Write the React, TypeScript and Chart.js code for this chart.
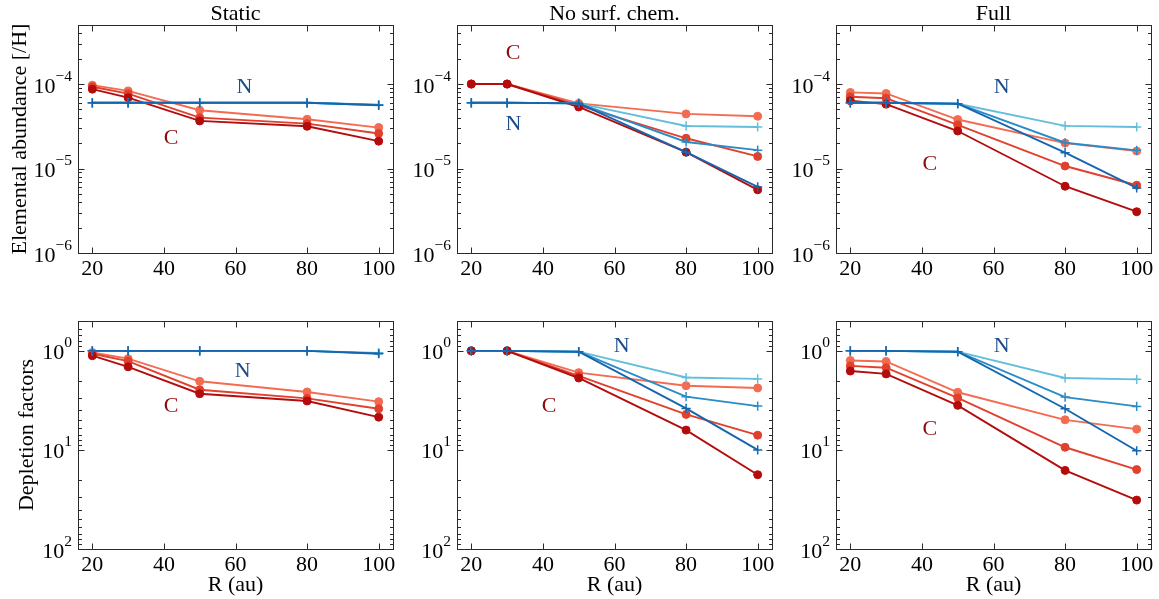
import React, { useEffect, useRef } from 'react';
import { Chart, registerables } from 'chart.js';

Chart.register(...registerables);

const FONT = "'Liberation Serif', 'Times New Roman', serif";

// ---------- categories / ticks / labels ----------
const radiusAu = [20, 30, 50, 80, 100];
const xTickValues = [20, 40, 60, 80, 100];
const abundanceDecades = [1e-6, 1e-5, 1e-4];
const depletionDecades = [1, 10, 100];
const panelTitles = ['Static', 'No surf. chem.', 'Full'];
const rowLabels = ['Elemental abundance [/H]', 'Depletion factors'];
const xAxisLabel = 'R (au)';

// ---------- elemental abundances (top row); series order: light, mid, dark ----------
const staticAbundanceC = [
  [9.7e-5, 8.3e-5, 4.9e-5, 3.83e-5, 3.05e-5],
  [9.3e-5, 7.7e-5, 4.0e-5, 3.4e-5, 2.6e-5],
  [8.7e-5, 6.9e-5, 3.66e-5, 3.16e-5, 2.11e-5],
];
const staticAbundanceN = [
  [6.0e-5, 6.0e-5, 6.0e-5, 6.0e-5, 5.7e-5],
  [6.0e-5, 6.0e-5, 6.0e-5, 6.0e-5, 5.65e-5],
  [6.0e-5, 6.0e-5, 6.0e-5, 6.0e-5, 5.6e-5],
];
const noSurfAbundanceC = [
  [1.0e-4, 1.0e-4, 5.9e-5, 4.43e-5, 4.16e-5],
  [1.0e-4, 1.0e-4, 5.6e-5, 2.28e-5, 1.39e-5],
  [1.0e-4, 1.0e-4, 5.35e-5, 1.56e-5, 5.6e-6],
];
const noSurfAbundanceN = [
  [6.0e-5, 6.0e-5, 5.9e-5, 3.19e-5, 3.1e-5],
  [6.0e-5, 6.0e-5, 5.9e-5, 2.06e-5, 1.65e-5],
  [6.0e-5, 6.0e-5, 5.9e-5, 1.56e-5, 6.05e-6],
];
const fullAbundanceC = [
  [7.96e-5, 7.74e-5, 3.8e-5, 2.0e-5, 1.61e-5],
  [7.07e-5, 6.8e-5, 3.28e-5, 1.07e-5, 6.34e-6],
  [6.34e-5, 5.78e-5, 2.78e-5, 6.17e-6, 3.08e-6],
];
const fullAbundanceN = [
  [6.0e-5, 6.0e-5, 5.85e-5, 3.2e-5, 3.1e-5],
  [6.0e-5, 6.0e-5, 5.85e-5, 2.02e-5, 1.64e-5],
  [6.0e-5, 6.0e-5, 5.85e-5, 1.54e-5, 5.9e-6],
];

// ---------- depletion factors (bottom row); series order: light, mid, dark ----------
const staticDepletionC = [
  [1.04, 1.2, 2.03, 2.6, 3.26],
  [1.07, 1.27, 2.47, 3.02, 3.84],
  [1.12, 1.45, 2.71, 3.21, 4.67],
];
const staticDepletionN = [
  [1.0, 1.0, 1.0, 1.0, 1.05],
  [1.0, 1.0, 1.0, 1.0, 1.06],
  [1.0, 1.0, 1.0, 1.0, 1.07],
];
const noSurfDepletionC = [
  [1.0, 1.0, 1.66, 2.25, 2.37],
  [1.0, 1.0, 1.79, 4.38, 7.1],
  [1.0, 1.0, 1.88, 6.31, 17.8],
];
const noSurfDepletionN = [
  [1.0, 1.0, 1.02, 1.86, 1.92],
  [1.0, 1.0, 1.02, 2.9, 3.61],
  [1.0, 1.0, 1.02, 3.81, 10.0],
];
const fullDepletionC = [
  [1.25, 1.28, 2.62, 4.97, 6.17],
  [1.42, 1.48, 2.99, 9.4, 15.8],
  [1.6, 1.71, 3.55, 16.1, 32.1],
];
const fullDepletionN = [
  [1.0, 1.0, 1.02, 1.88, 1.94],
  [1.0, 1.0, 1.02, 2.93, 3.64],
  [1.0, 1.0, 1.02, 3.84, 10.2],
];

// ---------- text annotations (data coordinates) ----------
type Note = { text: string; x: number; y: number };
const staticAbundanceNotes: Note[] = [{ text: 'N', x: 62.5, y: 9.5e-5 }, { text: 'C', x: 42, y: 2.4e-5 }];
const noSurfAbundanceNotes: Note[] = [{ text: 'C', x: 31.7, y: 2.4e-4 }, { text: 'N', x: 31.8, y: 3.5e-5 }];
const fullAbundanceNotes: Note[] = [{ text: 'N', x: 62.3, y: 9.5e-5 }, { text: 'C', x: 42.2, y: 1.17e-5 }];
const staticDepletionNotes: Note[] = [{ text: 'N', x: 62, y: 1.53 }, { text: 'C', x: 42, y: 3.5 }];
const noSurfDepletionNotes: Note[] = [{ text: 'N', x: 62, y: 0.855 }, { text: 'C', x: 41.7, y: 3.5 }];
const fullDepletionNotes: Note[] = [{ text: 'N', x: 62.3, y: 0.855 }, { text: 'C', x: 42.2, y: 5.9 }];

// ---------- styles ----------
const cColors = ['#f36c52', '#e1402d', '#b40c0c'];
const nColors = ['#64bedb', '#2b8bc6', '#1566ae'];
const noteColors: Record<string, string> = { C: '#8e0b0b', N: '#1b4d8c' };

// ---------- layout ----------
const AREA_W = 315;
const AREA_H = 228;
const colLeft = [78, 457, 836];
const colLeftSpace = [78, 60, 60];
const RIGHT_PAD = 8;
const rowCanvasTop = [0, 293];
const rowAreaTop = [25, 321];
const rowBottomSpace = [40, 50];

type PanelSpec = {
  row: number;
  col: number;
  c: number[][];
  n: number[][];
  notes: Note[];
};

const panels: PanelSpec[] = [
  { row: 0, col: 0, c: staticAbundanceC, n: staticAbundanceN, notes: staticAbundanceNotes },
  { row: 0, col: 1, c: noSurfAbundanceC, n: noSurfAbundanceN, notes: noSurfAbundanceNotes },
  { row: 0, col: 2, c: fullAbundanceC, n: fullAbundanceN, notes: fullAbundanceNotes },
  { row: 1, col: 0, c: staticDepletionC, n: staticDepletionN, notes: staticDepletionNotes },
  { row: 1, col: 1, c: noSurfDepletionC, n: noSurfDepletionN, notes: noSurfDepletionNotes },
  { row: 1, col: 2, c: fullDepletionC, n: fullDepletionN, notes: fullDepletionNotes },
];

function expText(v: number): string {
  const e = Math.round(Math.log10(v));
  return e < 0 ? '\u2212' + String(-e) : String(e);
}

const decorPlugin = {
  id: 'decor',
  afterDraw(chart: any, _args: any, opts: any) {
    const { ctx, chartArea: a, scales } = chart;
    const xs = scales.x;
    const ys = scales.y;
    ctx.save();
    const L = Math.round(a.left) + 0.5;
    const R = Math.round(a.right) + 0.5;
    const T = Math.round(a.top) + 0.5;
    const B = Math.round(a.bottom) + 0.5;
    ctx.strokeStyle = '#2a2a2a';
    ctx.lineWidth = 1;
    const seg = (x1: number, y1: number, x2: number, y2: number) => {
      ctx.beginPath();
      ctx.moveTo(x1, y1);
      ctx.lineTo(x2, y2);
      ctx.stroke();
    };
    // x ticks (inward, top & bottom)
    for (const v of xTickValues) {
      const px = Math.round(xs.getPixelForValue(v)) + 0.5;
      seg(px, B, px, B - 6);
      seg(px, T, px, T + 6);
    }
    // y ticks (major + minor, inward, left & right)
    const lo = Math.min(ys.min, ys.max);
    const hi = Math.max(ys.min, ys.max);
    for (let e = Math.floor(Math.log10(lo)); e <= Math.ceil(Math.log10(hi)); e++) {
      for (let m = 1; m <= 9; m++) {
        const v = m * Math.pow(10, e);
        if (v < lo * 0.999 || v > hi * 1.001) continue;
        const py = Math.round(ys.getPixelForValue(v)) + 0.5;
        const len = m === 1 ? 6 : 3.5;
        seg(L, py, L + len, py);
        seg(R, py, R - len, py);
      }
    }
    // frame
    ctx.strokeRect(L, T, R - L, B - T);

    // y tick labels with superscript exponents
    ctx.fillStyle = '#000';
    ctx.textBaseline = 'alphabetic';
    for (const v of opts.decades as number[]) {
      const py = ys.getPixelForValue(v);
      const ex = expText(v);
      ctx.font = `15.5px ${FONT}`;
      const ew = ctx.measureText(ex).width;
      ctx.font = `22px ${FONT}`;
      const bw = ctx.measureText('10').width;
      const right = a.left - 6;
      ctx.textAlign = 'left';
      ctx.fillText('10', right - ew - bw, py + 8.5);
      ctx.font = `15.5px ${FONT}`;
      ctx.fillText(ex, right - ew, py - 3.5);
    }

    // panel title
    if (opts.title) {
      ctx.font = `22px ${FONT}`;
      ctx.textAlign = 'center';
      ctx.fillStyle = '#000';
      ctx.fillText(opts.title, (a.left + a.right) / 2, a.top - 5);
    }

    // annotations
    ctx.font = `22px ${FONT}`;
    ctx.textAlign = 'center';
    for (const n of opts.notes as Note[]) {
      ctx.fillStyle = noteColors[n.text] || '#000';
      ctx.fillText(n.text, xs.getPixelForValue(n.x), ys.getPixelForValue(n.y) + 7.5);
    }
    ctx.restore();
  },
};

function Panel({ spec }: { spec: PanelSpec }) {
  const ref = useRef<HTMLCanvasElement | null>(null);
  const leftSpace = colLeftSpace[spec.col];
  const canvasLeft = colLeft[spec.col] - leftSpace;
  const canvasTop = rowCanvasTop[spec.row];
  const padTop = rowAreaTop[spec.row] - canvasTop;
  const bottomSpace = rowBottomSpace[spec.row];
  const width = leftSpace + AREA_W + RIGHT_PAD;
  const height = padTop + AREA_H + bottomSpace;

  useEffect(() => {
    if (!ref.current) return;
    const isTop = spec.row === 0;
    const mk = (series: number[], color: string, kind: 'C' | 'N') => ({
      data: radiusAu.map((x, i) => ({ x, y: series[i] })),
      borderColor: color,
      backgroundColor: color,
      pointBackgroundColor: color,
      pointBorderColor: color,
      borderWidth: 1.9,
      pointStyle: kind === 'C' ? 'circle' : 'cross',
      pointRadius: kind === 'C' ? 4 : 4.6,
      pointBorderWidth: kind === 'C' ? 1 : 1.5,
      tension: 0,
      fill: false,
    });
    const datasets = [
      mk(spec.n[2], nColors[2], 'N'),
      mk(spec.n[1], nColors[1], 'N'),
      mk(spec.n[0], nColors[0], 'N'),
      mk(spec.c[2], cColors[2], 'C'),
      mk(spec.c[1], cColors[1], 'C'),
      mk(spec.c[0], cColors[0], 'C'),
    ];
    const chart = new Chart(ref.current, {
      type: 'line',
      data: { datasets },
      plugins: [decorPlugin],
      options: {
        animation: false,
        responsive: false,
        events: [],
        layout: { padding: { top: padTop, right: RIGHT_PAD, left: 0, bottom: 0 } },
        plugins: {
          legend: { display: false },
          tooltip: { enabled: false },
          decor: {
            title: isTop ? panelTitles[spec.col] : '',
            notes: spec.notes,
            decades: isTop ? abundanceDecades : depletionDecades,
          },
        } as any,
        scales: {
          x: {
            type: 'linear',
            min: 16,
            max: 104,
            grid: { display: false, drawTicks: false },
            border: { display: false },
            afterBuildTicks: (s: any) => {
              s.ticks = xTickValues.map((v) => ({ value: v }));
            },
            afterFit: (s: any) => {
              s.height = bottomSpace;
            },
            ticks: {
              autoSkip: false,
              maxRotation: 0,
              padding: 3,
              color: '#000',
              font: { family: FONT, size: 22 },
              callback: (v: any) => String(v),
            },
            title: {
              display: !isTop,
              text: xAxisLabel,
              color: '#000',
              font: { family: FONT, size: 22 },
              padding: { top: 0, bottom: 1 },
            },
          },
          y: {
            type: 'logarithmic',
            min: isTop ? 1e-6 : 0.5,
            max: isTop ? 5e-4 : 100,
            reverse: !isTop,
            grid: { display: false, drawTicks: false },
            border: { display: false },
            ticks: { display: false },
            afterFit: (s: any) => {
              s.width = leftSpace;
            },
            title: {
              display: spec.col === 0,
              text: rowLabels[spec.row],
              color: '#000',
              font: { family: FONT, size: 22 },
              padding: { top: isTop ? 7 : 14, bottom: 0 },
            },
          },
        },
      } as any,
    });
    return () => chart.destroy();
  }, []);

  return (
    <canvas
      ref={ref}
      width={width}
      height={height}
      style={{ position: 'absolute', left: canvasLeft, top: canvasTop, width, height }}
    />
  );
}

export default function App() {
  return (
    <div
      style={{
        position: 'fixed',
        left: 0,
        top: 0,
        width: 1159,
        height: 599,
        background: '#ffffff',
        overflow: 'hidden',
      }}
    >
      {panels.map((p, i) => (
        <Panel key={i} spec={p} />
      ))}
    </div>
  );
}
